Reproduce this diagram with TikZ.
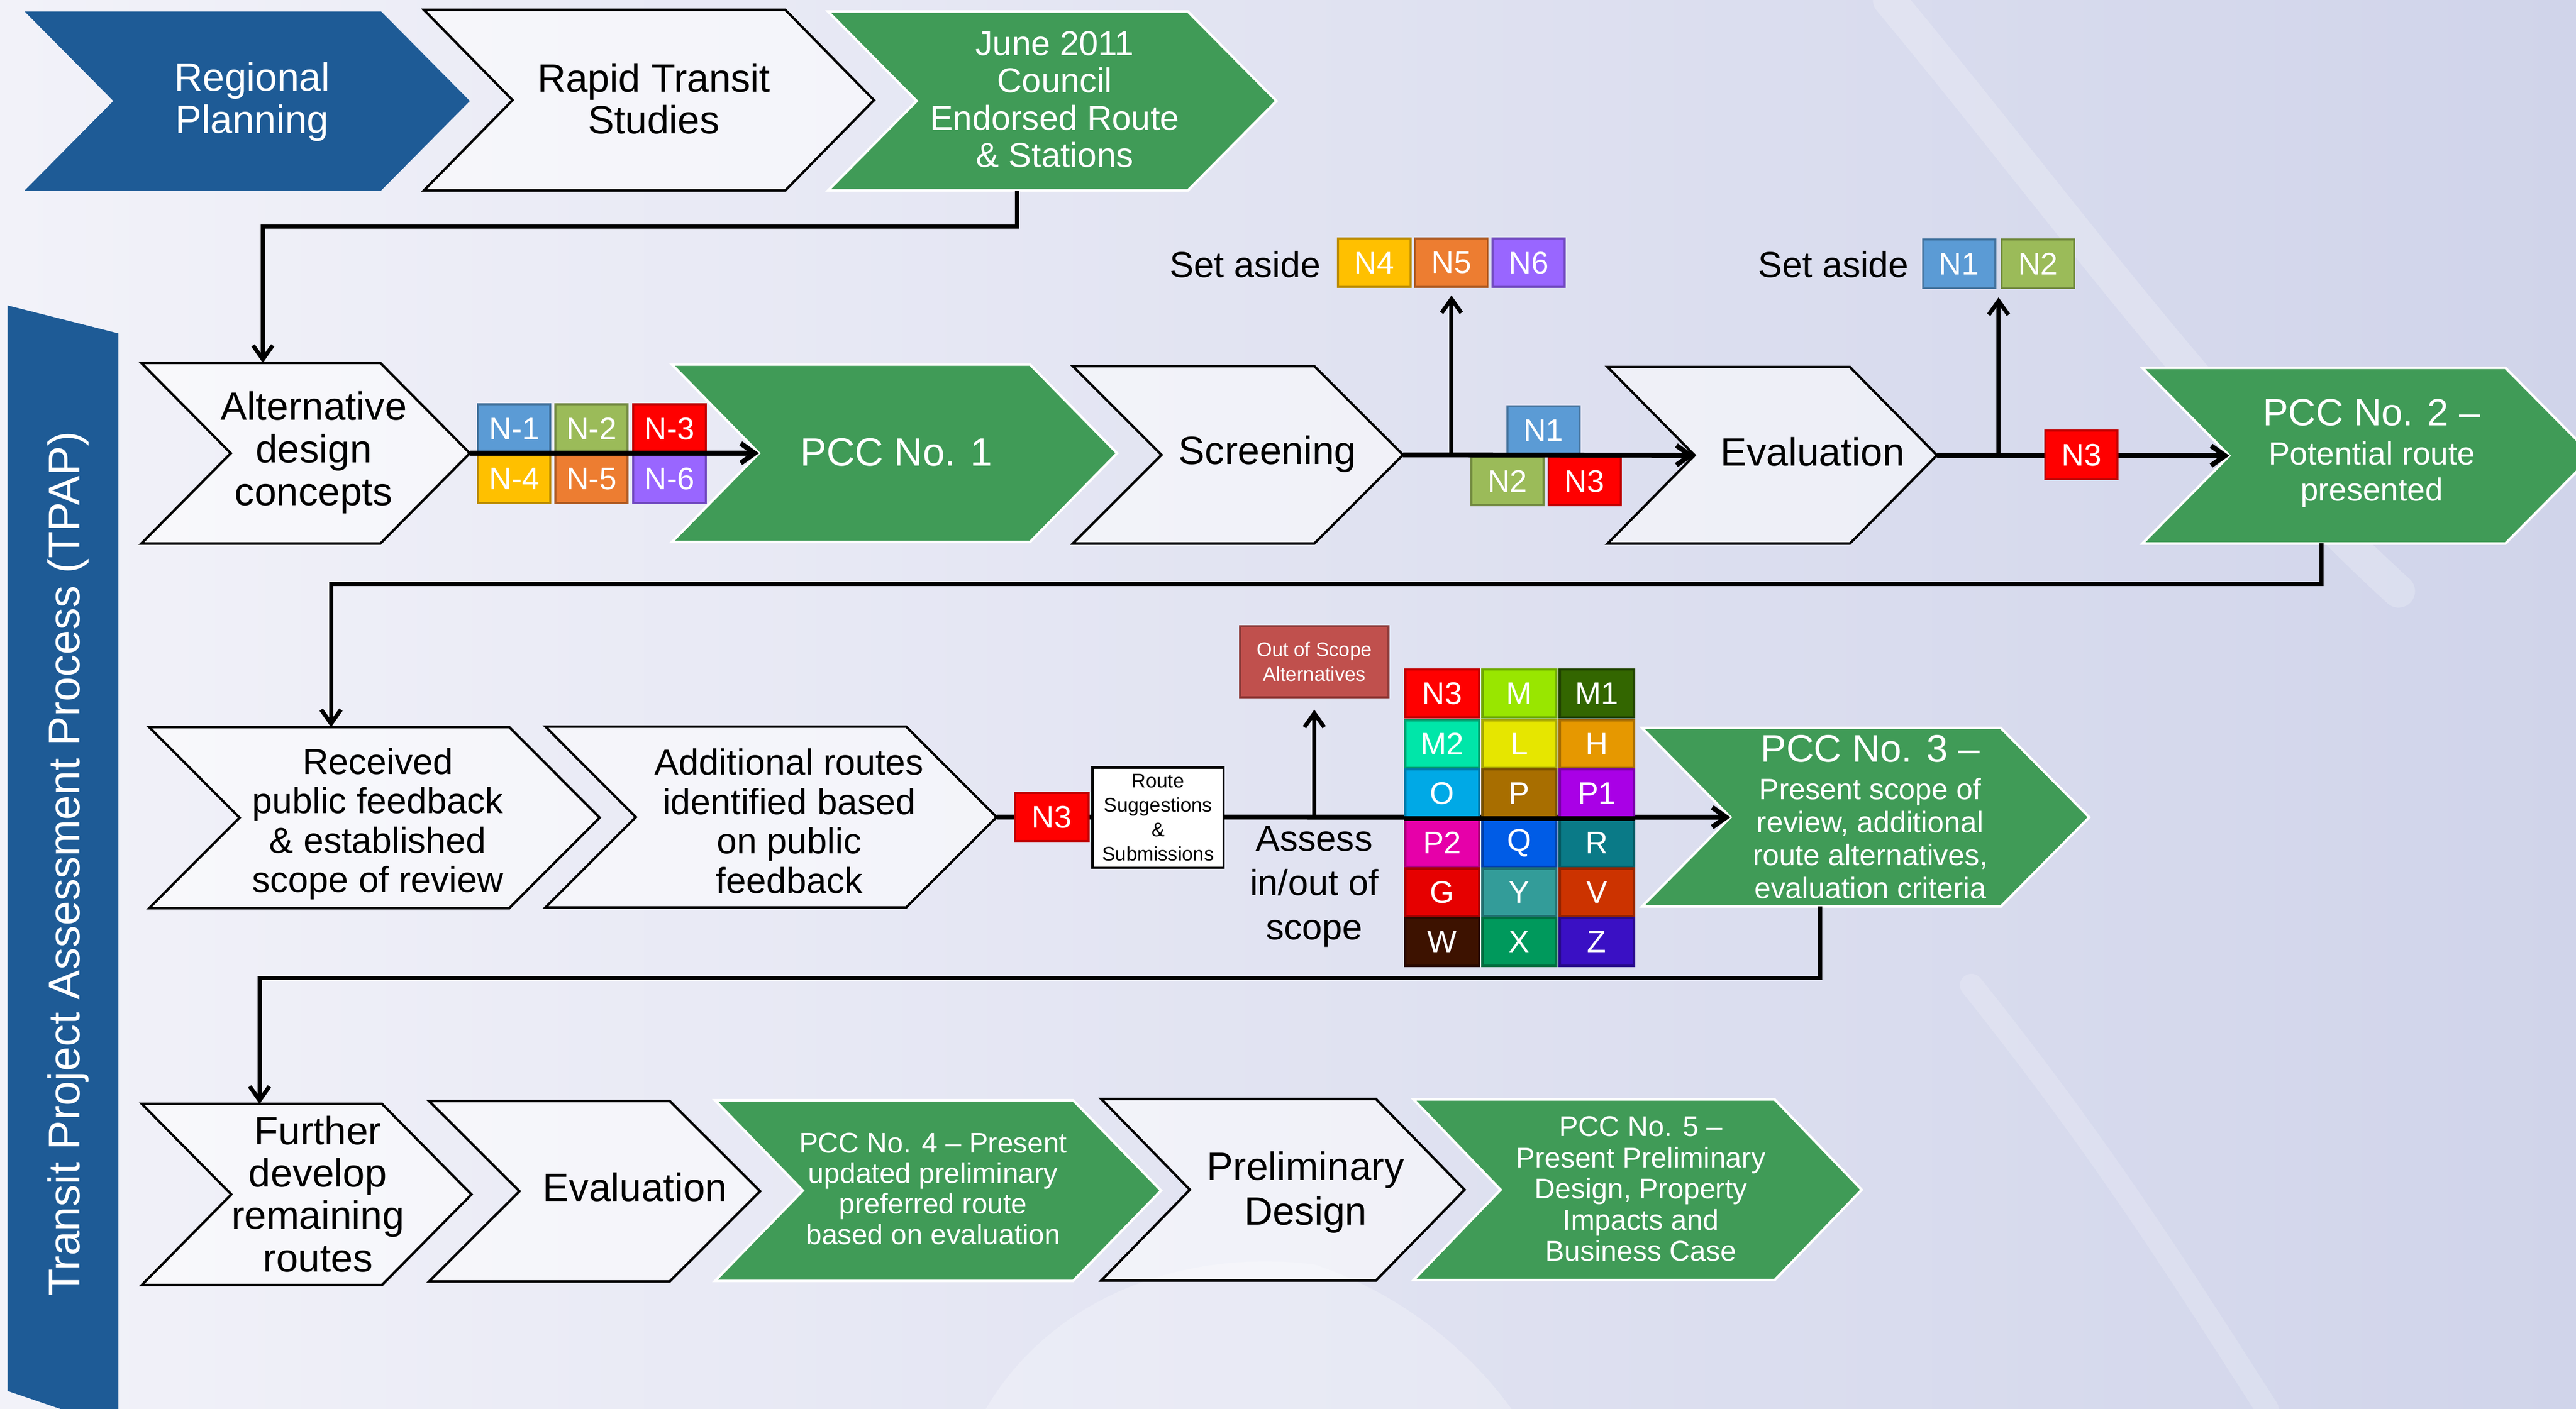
\documentclass[tikz,border=0pt]{standalone}
\usepackage{fontspec}
\setmainfont{Liberation Sans}
\usetikzlibrary{arrows.meta,calc}
\definecolor{pblue}{RGB}{30,91,150}
\definecolor{pgreen}{RGB}{64,155,87}
\definecolor{bgL}{RGB}{242,242,249}
\definecolor{bgM}{RGB}{225,227,242}
\definecolor{bgR}{RGB}{208,212,234}
\definecolor{cN1}{RGB}{91,155,213}\definecolor{bN1}{RGB}{65,113,156}
\definecolor{cN2}{RGB}{155,187,89}\definecolor{bN2}{RGB}{113,137,63}
\definecolor{cN3}{RGB}{255,0,0}\definecolor{bN3}{RGB}{192,0,0}
\definecolor{cN4}{RGB}{255,192,0}\definecolor{bN4}{RGB}{188,140,0}
\definecolor{cN5}{RGB}{237,125,49}\definecolor{bN5}{RGB}{174,90,33}
\definecolor{cN6}{RGB}{153,102,255}\definecolor{bN6}{RGB}{112,72,192}
\definecolor{cOOS}{RGB}{192,80,77}\definecolor{bOOS}{RGB}{140,56,54}
\definecolor{gM}{RGB}{153,230,0}\definecolor{gMb}{RGB}{110,170,0}
\definecolor{gMa}{RGB}{51,102,0}\definecolor{gMab}{RGB}{34,68,0}
\definecolor{gMc}{RGB}{0,230,169}\definecolor{gMcb}{RGB}{0,160,112}
\definecolor{gL}{RGB}{230,230,0}\definecolor{gLb}{RGB}{168,168,0}
\definecolor{gH}{RGB}{230,152,0}\definecolor{gHb}{RGB}{168,110,0}
\definecolor{gO}{RGB}{0,169,230}\definecolor{gOb}{RGB}{0,122,168}
\definecolor{gP}{RGB}{168,110,0}\definecolor{gPb}{RGB}{120,80,0}
\definecolor{gPa}{RGB}{169,0,230}\definecolor{gPab}{RGB}{120,0,168}
\definecolor{gPc}{RGB}{230,0,169}\definecolor{gPcb}{RGB}{168,0,120}
\definecolor{gQ}{RGB}{0,92,230}\definecolor{gQb}{RGB}{0,64,168}
\definecolor{gR}{RGB}{10,122,135}\definecolor{gRb}{RGB}{5,90,99}
\definecolor{gG}{RGB}{230,0,0}\definecolor{gGb}{RGB}{168,0,0}
\definecolor{gY}{RGB}{51,156,153}\definecolor{gYb}{RGB}{32,112,112}
\definecolor{gV}{RGB}{204,51,0}\definecolor{gVb}{RGB}{150,36,0}
\definecolor{gW}{RGB}{61,18,0}\definecolor{gWb}{RGB}{42,10,0}
\definecolor{gX}{RGB}{0,153,92}\definecolor{gXb}{RGB}{0,110,64}
\definecolor{gZ}{RGB}{58,16,196}\definecolor{gZb}{RGB}{40,10,140}
\newcommand{\myfs}[2]{\fontsize{#1}{#2}\selectfont}
\newcommand{\mychev}[7]{%
  \pgfmathsetmacro{\cym}{(#5+#6)/2}%
  \pgfmathsetmacro{\cxa}{#3+#7}%
  \pgfmathsetmacro{\cxb}{#4-#7}%
  \path[#2] (#3,#5) -- (\cxb,#5) -- (#4,\cym) -- (\cxb,#6) -- (#3,#6) -- (\cxa,\cym) -- cycle;
  \coordinate (#1-notch) at (\cxa,\cym);
  \coordinate (#1-tip) at (#4,\cym);
}
\tikzset{
  wchev/.style={draw=black, line width=1.5pt, fill=white, fill opacity=0.55},
  gchev/.style={draw=white, line width=1.5pt, fill=pgreen},
  bchev/.style={fill=pblue},
  txt/.style={align=center, inner sep=0pt, text=black},
  wtxt/.style={align=center, inner sep=0pt, text=white},
  conn/.style={line width=2.5pt, -{Straight Barb[length=8.5pt,width=12pt]}},
  flow/.style={line width=3pt, -{Straight Barb[length=8.5pt,width=12pt]}},
  nbox/.style={minimum width=44pt, minimum height=29.5pt, inner sep=0pt, line width=1.2pt, text=white, font=\myfs{19}{19}},
  gbox/.style={minimum width=45pt, minimum height=29.2pt, inner sep=0pt, line width=1.5pt, text=white, font=\myfs{19}{19}},
}
\begin{document}
\begin{tikzpicture}[x=1pt,y=-1pt]
\useasboundingbox (0,0) rectangle (1568,858);
% background
\fill[bgM] (0,0) rectangle (1568,858);
\shade[left color=bgL, right color=bgR] (0,0) rectangle (1568,858);
\draw[white, opacity=0.22, line width=20pt, line cap=round] (1150,0) .. controls (1250,120) and (1350,260) .. (1460,360);
\draw[white, opacity=0.18, line width=14pt, line cap=round] (1200,600) .. controls (1280,700) and (1330,780) .. (1380,858);
\fill[white, opacity=0.25] (600,858) .. controls (640,790) and (720,760) .. (800,770) .. controls (860,790) and (900,830) .. (920,858) -- cycle;

% TPAP band
\fill[pblue] (4.6,186) -- (72,203) -- (72,870) -- (4.6,847) -- cycle;
\node[wtxt, rotate=90, font=\myfs{27}{27}] (tpap) at (41.5,526) {Transit Project Assessment Process (TPAP)};

% row 1
\mychev{rp}{bchev}{15}{286}{7}{116}{54}
\mychev{rts}{wchev}{258}{532}{6}{116}{54}
\mychev{jun}{gchev}{504}{777}{7}{116}{54}
\node[wtxt, font=\myfs{24}{25.5}] (t-rp) at (153.5,62) {Regional\\Planning};
\node[txt, font=\myfs{24}{25.5}] (t-rts) at (398,60.2) {Rapid Transit\\Studies};
\node[wtxt, font=\myfs{21}{22.7}] (t-jun) at (642,60.5) {June 2011\\Council\\Endorsed Route\\\& Stations};

% row 2
\mychev{alt}{wchev}{86}{286}{221}{331}{54.5}
\mychev{pa}{gchev}{409}{680}{222}{330}{53}
\mychev{scr}{wchev}{653}{854}{223}{331}{54}
\mychev{eva}{wchev}{978.5}{1179}{223.5}{331}{53}
\mychev{pb}{gchev}{1304}{1578}{224}{331}{53}
\node[txt, font=\myfs{24}{26}] (t-alt) at (191,275.5) {Alternative\\design\\concepts};
\node[wtxt, font=\myfs{24}{26}] (t-pa) at (545.5,275.3) {PCC No. 1};
\node[txt, font=\myfs{24}{26}] (t-scr) at (771.5,276.4) {Screening};
\node[txt, font=\myfs{24}{26}] (t-eva) at (1103.3,275) {Evaluation};
\node[wtxt, font=\myfs{19.5}{22}] (t-pb) at (1443.7,276) {{\myfs{23.2}{24}PCC No. 2 –}\\[2pt]Potential route\\presented};

% row 2 boxes and lines
\node[nbox, fill=cN1, draw=bN1] (na1) at (313,261) {N-1};
\node[nbox, fill=cN2, draw=bN2] (na2) at (360,261) {N-2};
\node[nbox, fill=cN3, draw=bN3] (na3) at (407.5,261) {N-3};
\node[nbox, fill=cN4, draw=bN4] (na4) at (313,291.5) {N-4};
\node[nbox, fill=cN5, draw=bN5] (na5) at (360,291.5) {N-5};
\node[nbox, fill=cN6, draw=bN6] (na6) at (407.5,291.5) {N-6};
\draw[flow] (alt-tip) -- (pa-notch);

\node[txt, font=\myfs{22}{22}, anchor=east] (sa1) at (804,161) {Set aside};
\node[nbox, fill=cN4, draw=bN4] (sb4) at (836.5,160) {N4};
\node[nbox, fill=cN5, draw=bN5] (sb5) at (883.5,160) {N5};
\node[nbox, fill=cN6, draw=bN6] (sb6) at (930.5,160) {N6};
\node[nbox, fill=cN1, draw=bN1] (sc1) at (939.5,262) {N1};
\node[nbox, fill=cN2, draw=bN2] (sc2) at (917.5,293) {N2};
\node[nbox, fill=cN3, draw=bN3] (sc3) at (964.5,293) {N3};
\draw[flow] (scr-tip) -- (eva-notch);
\draw[conn, shorten >=4.5pt] (sb5.south |- scr-tip) -- (sb5.south);

\node[txt, font=\myfs{22}{22}, anchor=east] (sa2) at (1162,161) {Set aside};
\node[nbox, fill=cN1, draw=bN1] (sd1) at (1192.5,160.7) {N1};
\node[nbox, fill=cN2, draw=bN2] (sd2) at (1240.5,160.7) {N2};
\coordinate (sdmid) at ($(sd1.south east)!0.5!(sd2.south west)$);
\draw[flow] (eva-tip) -- (pb-notch);
\draw[conn, shorten >=5pt] (sdmid |- eva-tip) -- (sdmid);
\node[nbox, fill=cN3, draw=bN3] (se3) at (1267,277) {N3};

% connectors between rows
\coordinate (jun-out) at (619,116);
\coordinate (alt-in) at (160,221);
\draw[conn] (jun-out) -- ++(0,22) -| (alt-in);
\coordinate (pb-out) at (1413,331);
\coordinate (rec-in) at (201.5,442.8);
\draw[conn] (pb-out) -- ++(0,24.7) -| (rec-in);

% row 3
\mychev{rec}{wchev}{90.8}{365}{442.8}{553}{55}
\mychev{add}{wchev}{332}{606.6}{442.5}{552.6}{55}
\mychev{pc}{gchev}{999.5}{1271.7}{443.3}{552}{53.8}
\node[txt, font=\myfs{22}{24}] (t-rec) at (230,501.7) {Received\\public feedback\\\& established\\scope of review};
\node[txt, font=\myfs{22}{24}] (t-add) at (480.4,500) {Additional routes\\identified based\\on public\\feedback};
\node[wtxt, font=\myfs{18}{20}] (t-pc) at (1138.4,497.4) {{\myfs{23.4}{24}PCC No. 3 –}\\[3pt]Present scope of\\review, additional\\route alternatives,\\evaluation criteria};

\draw[flow] (add-tip) -- (pc-notch);
\node[nbox, fill=cN3, draw=bN3, minimum width=45pt, minimum height=29pt] (rn3) at (640.2,497.5) {N3};
\node[draw=black, fill=white, line width=1.5pt, minimum width=79.8pt, minimum height=61.1pt, inner sep=0pt, align=center, font=\myfs{12}{14.8}] (rss) at (704.9,497.85) {Route\\Suggestions\\\&\\Submissions};
\node[fill=cOOS, draw=bOOS, line width=1.2pt, minimum width=90.4pt, minimum height=43.1pt, inner sep=0pt, align=center, text=white, font=\myfs{12}{15}] (oos) at (800,403) {Out of Scope\\Alternatives};
\draw[conn, shorten >=7pt] (oos.south |- add-tip) -- (oos.south);
\node[txt, font=\myfs{22}{27}] (t-ass) at (800,540) {Assess\\in/out of\\scope};

% grid
\node[gbox, fill=cN3, draw=bN3] (g11) at (877.8,422.25) {N3};
\node[gbox, fill=gM, draw=gMb] (g12) at (924.85,422.25) {M};
\node[gbox, fill=gMa, draw=gMab] (g13) at (971.95,422.25) {M1};
\node[gbox, fill=gMc, draw=gMcb] (g21) at (877.8,453.05) {M2};
\node[gbox, fill=gL, draw=gLb] (g22) at (924.85,453.05) {L};
\node[gbox, fill=gH, draw=gHb] (g23) at (971.95,453.05) {H};
\node[gbox, fill=gO, draw=gOb] (g31) at (877.8,483.1) {O};
\node[gbox, fill=gP, draw=gPb] (g32) at (924.85,483.1) {P};
\node[gbox, fill=gPa, draw=gPab] (g33) at (971.95,483.1) {P1};
\node[gbox, fill=gPc, draw=gPcb] (g41) at (877.8,513.25) {P2};
\node[gbox, fill=gQ, draw=gQb] (g42) at (924.85,513.25) {Q};
\node[gbox, fill=gR, draw=gRb] (g43) at (971.95,513.25) {R};
\node[gbox, fill=gG, draw=gGb] (g51) at (877.8,543.5) {G};
\node[gbox, fill=gY, draw=gYb] (g52) at (924.85,543.5) {Y};
\node[gbox, fill=gV, draw=gVb] (g53) at (971.95,543.5) {V};
\node[gbox, fill=gW, draw=gWb] (g61) at (877.8,573.5) {W};
\node[gbox, fill=gX, draw=gXb] (g62) at (924.85,573.5) {X};
\node[gbox, fill=gZ, draw=gZb] (g63) at (971.95,573.5) {Z};
\draw[line width=3pt] (g31.south west) -- (g33.south east);

\coordinate (pc-out) at (1107.8,552);
\coordinate (fur-in) at (158,672.2);
\draw[conn] (pc-out) -- ++(0,43.4) -| (fur-in);

% row 4
\mychev{fur}{wchev}{86.3}{287}{672.2}{782.5}{54.5}
\mychev{evb}{wchev}{261.2}{462.7}{670.5}{780.3}{55}
\mychev{pd}{gchev}{435.2}{706.7}{670}{780}{53.5}
\mychev{pre}{wchev}{670.3}{891.5}{669.2}{779.8}{54}
\mychev{pe}{gchev}{860.4}{1133.2}{669.5}{779.5}{53}
\node[txt, font=\myfs{24}{25.8}] (t-fur) at (193.5,727) {Further\\develop\\remaining\\routes};
\node[txt, font=\myfs{24}{26}] (t-evb) at (386.5,722.9) {Evaluation};
\node[wtxt, font=\myfs{17.3}{18.6}] (t-pd) at (568,723.8) {PCC No. 4 – Present\\updated preliminary\\preferred route\\based on evaluation};
\node[txt, font=\myfs{24}{27.5}] (t-pre) at (794.7,726) {Preliminary\\Design};
\node[wtxt, font=\myfs{17.4}{19}] (t-pe) at (998.8,724) {PCC No. 5 –\\Present Preliminary\\Design, Property\\Impacts and\\Business Case};
\end{tikzpicture}
\end{document}
